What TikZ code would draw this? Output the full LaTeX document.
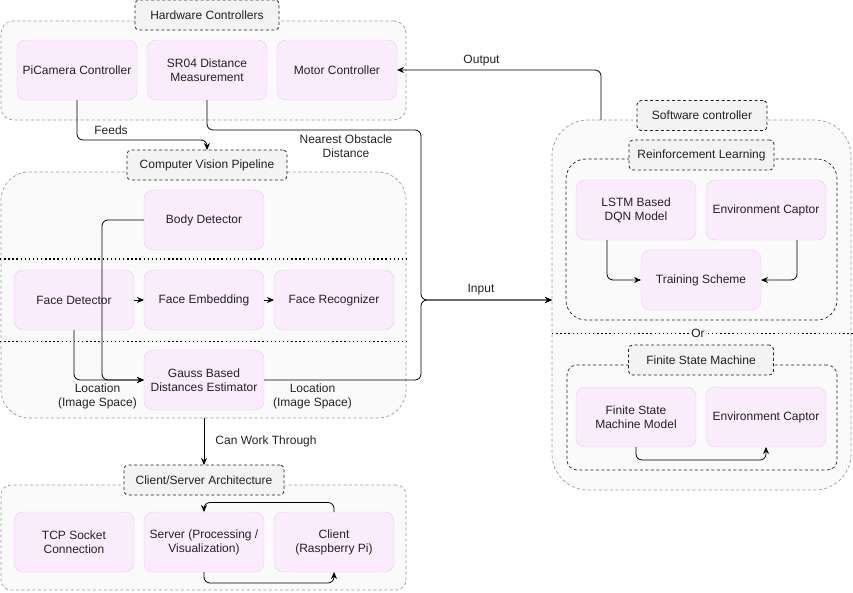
\documentclass[tikz,border=0pt]{standalone}
\usepackage{fontspec}
\setmainfont{Liberation Sans}
\usepackage{xcolor}
\usepackage{tikz}
\usetikzlibrary{arrows.meta, positioning}

\definecolor{boxfill}{HTML}{FAECFD}
\definecolor{boxline}{HTML}{EBCBF5}
\definecolor{grpfill}{HTML}{FAFAFA}
\definecolor{grpline}{HTML}{9A9A9A}
\definecolor{ttlfill}{HTML}{F3F3F3}
\definecolor{txt}{HTML}{222222}

\begin{document}
\begin{tikzpicture}[
      x=1pt, y=-1pt,
      font=\fontsize{12}{14}\selectfont, text=txt,
      node distance=10pt and 10pt,
      >={Stealth[length=7pt, width=6pt]},
      grp/.style={draw=grpline, fill=grpfill, dash pattern=on 3pt off 2.5pt, line width=0.7pt, inner sep=0pt, outer sep=0pt},
      ttl/.style={draw=txt, fill=ttlfill, dash pattern=on 3pt off 2.5pt, line width=0.8pt, rounded corners=4pt, minimum height=30pt, inner sep=0pt, outer sep=0pt},
      box/.style={draw=boxline, fill=boxfill, rounded corners=9pt, align=center, minimum width=120pt, minimum height=60pt, inner sep=0pt, outer sep=0pt},
      lbl/.style={align=center, inner sep=1pt},
      sep/.style={line width=1.4pt, dash pattern=on 1.4pt off 2.7pt},
      arr/.style={->, line width=0.8pt, rounded corners=6pt},
    ]
      \useasboundingbox (0,0) rectangle (853,592);

      \node[grp, rounded corners=12pt, minimum width=405pt, minimum height=99pt] (hw) at (203.5,70.5) {};
      \node[grp, rounded corners=28pt, minimum width=405pt, minimum height=246pt] (cv) at (203.5,295) {};
      \node[grp, rounded corners=10pt, minimum width=405pt, minimum height=105pt] (cs) at (203.5,537.5) {};
      \node[grp, rounded corners=36pt, minimum width=299pt, minimum height=370pt] (sw) at (701.5,305) {};
      \node[grp, draw=txt, rounded corners=20pt, minimum width=271pt, minimum height=161pt] (rl) at (701.5,239.5) {};
      \node[grp, draw=txt, rounded corners=10pt, minimum width=270pt, minimum height=105pt] (fsm) at (702,417.5) {};

      \draw[sep] (0,259) -- (406,259);
      \draw[sep] (0,341.7) -- (406,341.7);
      \draw[sep] (552,333.3) -- node[lbl, fill=grpfill, inner sep=0.5pt, pos=0.485] (orlbl) {Or} (853,333.3);

      \node[ttl, minimum width=144pt] (hwt) at (207,15) {Hardware Controllers};
      \node[ttl, minimum width=160pt] (cvt) at (207,165) {Computer Vision Pipeline};
      \node[ttl, minimum width=160pt] (cst) at (204,480) {Client/Server Architecture};
      \node[ttl, minimum width=130pt] (swt) at (702,115.5) {Software controller};
      \node[ttl, minimum width=145pt] (rlt) at (701.5,155) {Reinforcement Learning};
      \node[ttl, minimum width=145pt] (fsmt) at (701,360) {Finite State Machine};

      \node[box] (picam) at (77,70) {PiCamera Controller};
      \node[box, right=of picam] (sr04) {SR04 Distance\\ Measurement};
      \node[box, right=of sr04] (motor) {Motor Controller};

      \node[box] (body) at (204,220) {Body Detector};
      \node[box] (facedet) at (74,300) {Face Detector};
      \node[box, right=of facedet] (faceemb) {Face Embedding};
      \node[box, right=of faceemb] (facerec) {Face Recognizer};
      \node[box] (gauss) at (204,380) {Gauss Based\\ Distances Estimator};

      \node[box] (tcp) at (74,542) {TCP Socket\\ Connection};
      \node[box, right=of tcp] (server) {Server (Processing /\\ Visualization)};
      \node[box, right=of server] (client) {Client\\ (Raspberry Pi)};

      \node[box] (lstm) at (636,210) {LSTM Based\\ DQN Model};
      \node[box, right=of lstm] (env1) {Environment Captor};
      \node[box] (train) at (701,280) {Training Scheme};

      \node[box] (fsmm) at (636,417) {Finite State\\ Machine Model};
      \node[box, right=of fsmm] (env2) {Environment Captor};

      \coordinate (nob) at (421,130);
      \coordinate (join) at (421,300);
      \coordinate (swin) at (552,300);
      \coordinate (swout) at (601,120);
      \coordinate (bdrop) at (102,380);

      \draw[arr] (picam.south) -- ++(0,40) -| (cvt.north);
      \draw[arr] (sr04.south) |- (nob) |- (swin);
      \draw[arr] (gauss.east) -| (join) -- (swin);
      \draw[arr] (swout) |- (motor.east);

      \draw[arr] (facedet) -- (faceemb);
      \draw[arr] (faceemb) -- (facerec);
      \draw[arr] (facedet.south) |- (gauss.west);
      \draw[arr] (body.west) -| (bdrop) -- (gauss.west);
      \draw[arr] (cst.north |- cv.south) -- (cst.north);

      \draw[arr] (client.north) -- ++(0,-9.5) -| (server.north);
      \draw[arr] (server.south) -- ++(0,11) -| (client.south);

      \draw[arr] ([xshift=-29pt]lstm.south) |- (train.west);
      \draw[arr] ([xshift=31pt]env1.south) |- (train.east);
      \draw[arr] (fsmm.south) -- ++(0,13) -| (env2.south);

      \node[lbl] (feedslbl) at (111,130) {Feeds};
      \node[lbl] (noblbl) at (346,146) {Nearest Obstacle\\ Distance};
      \node[lbl] (outlbl) at (481.5,61) {Output};
      \node[lbl] (inlbl) at (481,290) {Input};
      \node[lbl] (loclbl1) at (97.5,396) {Location\\ (Image Space)};
      \node[lbl] (loclbl2) at (312.5,396) {Location\\ (Image Space)};
      \node[lbl] (cwtlbl) at (266,441) {Can Work Through};
    \end{tikzpicture}
\end{document}
